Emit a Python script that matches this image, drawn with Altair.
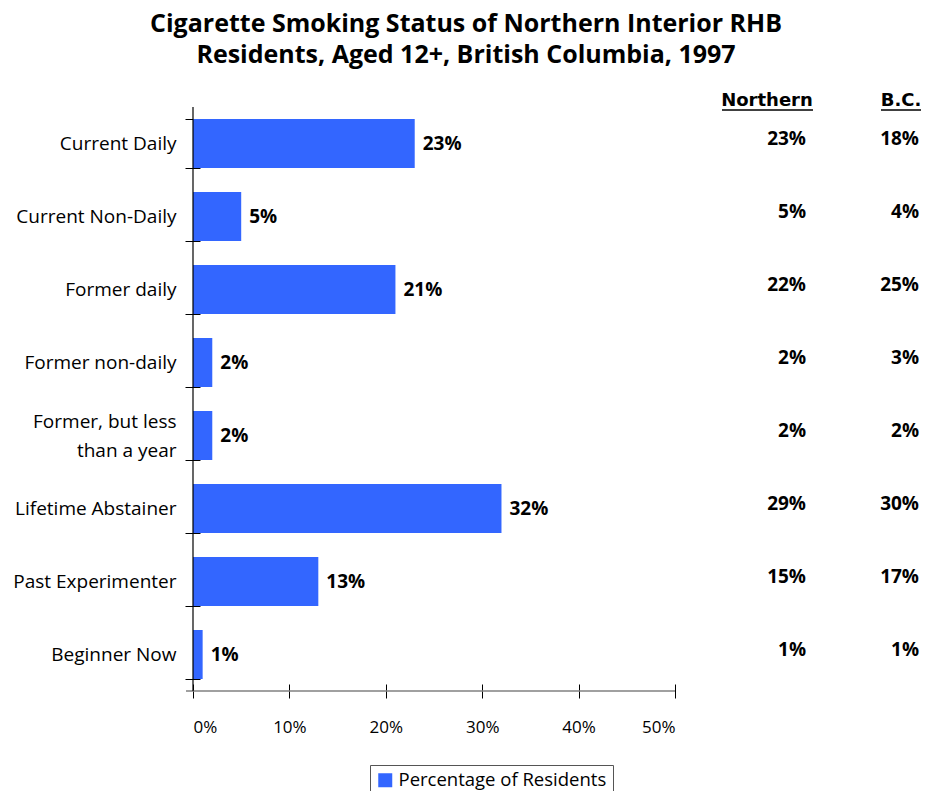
import altair as alt
import pandas as pd

categories = ["Current Daily", "Current Non-Daily", "Former daily", "Former non-daily",
              "Former, but less than a year", "Lifetime Abstainer", "Past Experimenter", "Beginner Now"]
residents_pct = [23, 5, 21, 2, 2, 32, 13, 1]
northern_pct = [23, 5, 22, 2, 2, 29, 15, 1]
bc_pct = [18, 4, 25, 3, 2, 30, 17, 1]
series_name = "Percentage of Residents"
x_ticks = [0, 10, 20, 30, 40, 50]
table_headers = ["Northern", "B.C."]
two_line = "Former, but less than a year"

df = pd.DataFrame({
    "category": categories,
    "value": residents_pct,
    "northern": northern_pct,
    "bc": bc_pct,
    "series": [series_name] * len(categories),
})
df["label"] = df["value"].astype(str) + "%"
df["nlabel"] = df["northern"].astype(str) + "%"
df["blabel"] = df["bc"].astype(str) + "%"

FONT = "Open Sans"
HFONT = "DejaVu Sans"
BLUE = "#3366FF"
W, H = 482, 584

y_sort = alt.Y("category:N", sort=categories)

y_enc = alt.Y("category:N", sort=categories, title=None,
              scale=alt.Scale(paddingInner=0.33, paddingOuter=0.165),
              axis=alt.Axis(tickBand="extent", domain=False, tickColor="black",
                            offset=-7, tickSize=15, labelPadding=9, labelFontSize=19,
                            labelFont=FONT, labelColor="black", labelLineHeight=29,
                            labelLimit=300,
                            labelOffset={"condition": {"test": f"datum.value == '{two_line}'",
                                                       "value": -14}, "value": 0},
                            labelExpr=f"datum.label == '{two_line}' ? ['Former, but less', 'than a year'] : datum.label"))

x_enc = alt.X("value:Q", title=None,
              scale=alt.Scale(domain=[0, 50], nice=False),
              axis=alt.Axis(values=x_ticks, labelExpr="datum.value + '%'", grid=False,
                            domain=False, tickColor="black", offset=-7, tickSize=14,
                            labelPadding=21, labelFontSize=17, labelFont=FONT,
                            labelColor="black"))

bars = alt.Chart(df).mark_bar(size=49).encode(
    x=x_enc,
    y=y_enc,
    color=alt.Color("series:N", scale=alt.Scale(range=[BLUE]),
                    legend=alt.Legend(orient="none", legendX=177, legendY=658, title=None,
                                      labelFontSize=18.5, labelFont=FONT, labelColor="black",
                                      labelLimit=400,
                                      symbolType="square", symbolSize=196, symbolStrokeWidth=0,
                                      strokeColor="#555555", fillColor="white", padding=6,
                                      labelOffset=4)),
)

bar_labels = alt.Chart(df).mark_text(align="left", baseline="middle", dx=8, fontSize=19,
                                     fontWeight="bold", font=FONT, color="black").encode(
    x="value:Q", y=y_sort, text="label:N")

north_col = alt.Chart(df).mark_text(align="right", baseline="middle", dy=-5, fontSize=19,
                                    fontWeight="bold", font=FONT, color="black").encode(
    x=alt.value(613), y=y_sort, text="nlabel:N")

bc_col = alt.Chart(df).mark_text(align="right", baseline="middle", dy=-5, fontSize=19,
                                 fontWeight="bold", font=FONT, color="black").encode(
    x=alt.value(726), y=y_sort, text="blabel:N")

hdr_df = pd.DataFrame({"h": table_headers})

north_hdr = alt.Chart(hdr_df).transform_filter(alt.datum.h == table_headers[0]).mark_text(
    align="center", baseline="middle", fontSize=18, fontWeight="bold", font=HFONT,
    color="black").encode(x=alt.value(574), y=alt.value(-6), text="h:N")
bc_hdr = alt.Chart(hdr_df).transform_filter(alt.datum.h == table_headers[1]).mark_text(
    align="center", baseline="middle", fontSize=18, fontWeight="bold", font=HFONT,
    color="black").encode(x=alt.value(708), y=alt.value(-6), text="h:N")

north_rule = alt.Chart(hdr_df).transform_filter(alt.datum.h == table_headers[0]).mark_rule(
    color="black", strokeWidth=1.5).encode(x=alt.value(529), x2=alt.value(620), y=alt.value(3))
bc_rule = alt.Chart(hdr_df).transform_filter(alt.datum.h == table_headers[1]).mark_rule(
    color="black", strokeWidth=1.5).encode(x=alt.value(688), x2=alt.value(728), y=alt.value(3))

# axis lines (domains) drawn separately so that ticks can cross them
x_domain = alt.Chart(hdr_df).transform_filter(alt.datum.h == table_headers[0]).mark_rule(
    color="#808080", strokeWidth=1.5).encode(x=alt.value(-7), x2=alt.value(W), y=alt.value(H))
y_domain = alt.Chart(hdr_df).transform_filter(alt.datum.h == table_headers[0]).mark_rule(
    color="black", strokeWidth=1.2).encode(x=alt.value(0), y=alt.value(0), y2=alt.value(H))

chart = alt.layer(bars, x_domain, y_domain, bar_labels, north_col, bc_col, north_hdr, bc_hdr,
                  north_rule, bc_rule).properties(
    width=W, height=H,
    padding={"left": 185, "top": 99, "right": 247, "bottom": 100},
    autosize=alt.AutoSizeParams(type="none"),
    background="white",
    title=alt.TitleParams(
        text=["Cigarette Smoking Status of Northern Interior RHB",
              "Residents, Aged 12+, British Columbia, 1997"],
        fontSize=25, font=FONT, fontWeight="bold", color="black",
        anchor="middle", dx=32, offset=24, lineHeight=31),
).configure_view(strokeWidth=0, stroke="transparent")

chart.save("out.html", embed_options={"renderer": "svg", "actions": False})
